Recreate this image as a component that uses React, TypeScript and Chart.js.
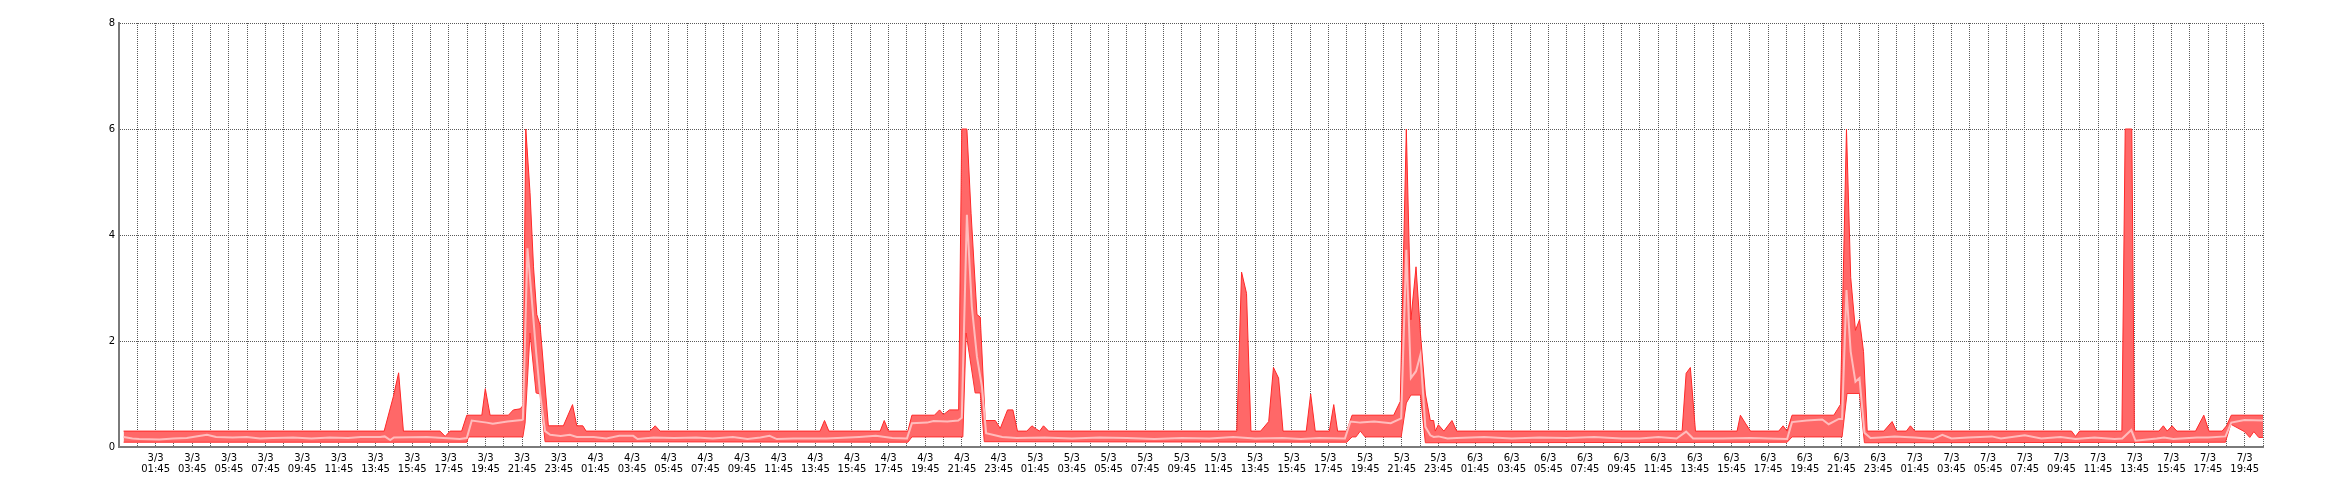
import React, { useEffect, useRef } from 'react';
import { Chart, registerables } from 'chart.js';

Chart.register(...registerables);

// x values are hours since 2/3 23:45 (axis start)
const TICK_LABELS = [
  '3/3 01:45', '3/3 03:45', '3/3 05:45', '3/3 07:45', '3/3 09:45', '3/3 11:45',
  '3/3 13:45', '3/3 15:45', '3/3 17:45', '3/3 19:45', '3/3 21:45', '3/3 23:45',
  '4/3 01:45', '4/3 03:45', '4/3 05:45', '4/3 07:45', '4/3 09:45', '4/3 11:45',
  '4/3 13:45', '4/3 15:45', '4/3 17:45', '4/3 19:45', '4/3 21:45', '4/3 23:45',
  '5/3 01:45', '5/3 03:45', '5/3 05:45', '5/3 07:45', '5/3 09:45', '5/3 11:45',
  '5/3 13:45', '5/3 15:45', '5/3 17:45', '5/3 19:45', '5/3 21:45', '5/3 23:45',
  '6/3 01:45', '6/3 03:45', '6/3 05:45', '6/3 07:45', '6/3 09:45', '6/3 11:45',
  '6/3 13:45', '6/3 15:45', '6/3 17:45', '6/3 19:45', '6/3 21:45', '6/3 23:45',
  '7/3 01:45', '7/3 03:45', '7/3 05:45', '7/3 07:45', '7/3 09:45', '7/3 11:45',
  '7/3 13:45', '7/3 15:45', '7/3 17:45', '7/3 19:45',
];

const MAX_T = [
  0.25, 14.47, 14.97, 15.26, 15.52, 17.52, 17.8, 18.07, 18.7, 18.98, 19.8, 19.99, 20.25,
  21.25, 21.52, 21.89, 22.04, 22.2, 22.43, 22.62, 22.8, 22.98, 23.43, 24.25, 24.75, 24.98,
  25.31, 25.49, 28.98, 29.26, 29.53, 38.26, 38.5, 38.74, 41.54, 41.76, 41.99, 43.05, 43.27,
  44.5, 44.78, 44.99, 45.32, 45.82, 45.99, 46.27, 46.5, 46.82, 47.0, 47.27, 47.82, 48.09,
  48.49, 48.78, 49.03, 49.54, 49.82, 50.0, 50.24, 50.45, 50.73, 61.0, 61.26, 61.53, 61.77,
  62.3, 62.74, 63.0, 63.28, 63.52, 64.79, 65.03, 65.28, 66.05, 66.29, 66.5, 67.0, 67.29,
  69.56, 69.92, 70.25, 70.5, 70.78, 71.02, 71.29, 71.56, 71.74, 71.83, 72.0, 72.3, 72.74,
  73.0, 85.3, 85.52, 85.75, 86.03, 88.3, 88.48, 88.75, 89.03, 90.57, 90.81, 91.03, 91.3,
  93.58, 93.76, 93.94, 94.27, 94.5, 94.76, 94.98, 95.2, 95.4, 96.31, 96.76, 97.0, 97.54,
  97.76, 98.0, 106.55, 106.77, 106.99, 109.3, 109.48, 109.84, 109.98, 111.32, 111.56,
  111.77, 112.04, 112.3, 113.32, 113.77, 114.05, 114.77, 115.01, 115.27, 117.0,
];
const MAX_V = [
  0.3, 0.3, 0.95, 1.4, 0.3, 0.3, 0.2, 0.3, 0.3, 0.6, 0.6, 1.1, 0.6,
  0.6, 0.7, 0.72, 0.78, 6.0, 4.8, 3.4, 2.5, 2.3, 0.4, 0.4, 0.8, 0.4,
  0.4, 0.3, 0.3, 0.4, 0.3, 0.3, 0.5, 0.3, 0.3, 0.5, 0.3, 0.3, 0.6,
  0.6, 0.7, 0.61, 0.7, 0.7, 6.0, 6.0, 4.4, 2.5, 2.45, 0.5, 0.5, 0.35,
  0.7, 0.7, 0.3, 0.3, 0.4, 0.35, 0.3, 0.4, 0.3, 0.3, 3.3, 2.9, 0.3,
  0.3, 0.48, 1.5, 1.3, 0.3, 0.3, 1.0, 0.3, 0.3, 0.8, 0.3, 0.3, 0.6,
  0.6, 0.86, 6.0, 2.4, 3.4, 2.15, 1.0, 0.5, 0.5, 0.3, 0.42, 0.3, 0.5,
  0.3, 0.3, 1.39, 1.5, 0.3, 0.3, 0.6, 0.45, 0.3, 0.3, 0.4, 0.3, 0.6,
  0.6, 0.7, 0.8, 6.0, 3.2, 2.2, 2.4, 1.8, 0.3, 0.3, 0.48, 0.3, 0.3,
  0.4, 0.3, 0.3, 0.2, 0.3, 0.3, 6.0, 6.0, 0.3, 0.3, 0.4,
  0.3, 0.4, 0.3, 0.3, 0.6, 0.3, 0.3, 0.4, 0.6, 0.6,
];

const MIN_T = [
  0.25, 18.98, 19.07, 22.04, 22.16, 22.43, 22.76, 22.98, 23.25, 43.05, 43.27, 46.05, 46.23,
  46.72, 47.0, 47.22, 67.0, 67.29, 67.5, 67.74, 68.0, 69.97, 70.25, 70.5, 71.02, 71.29,
  91.03, 91.3, 94.03, 94.3, 94.98, 95.25, 114.95, 115.24, 115.99, 116.28, 116.5, 116.77, 117.0,
];
const MIN_V = [
  0.09, 0.09, 0.19, 0.19, 0.45, 2.15, 1.02, 1.0, 0.1, 0.09, 0.19, 0.19, 2.15,
  1.02, 1.02, 0.1, 0.09, 0.19, 0.19, 0.3, 0.19, 0.19, 0.83, 0.98, 0.98, 0.08,
  0.09, 0.19, 0.19, 1.01, 1.01, 0.08, 0.09, 0.43, 0.29, 0.18, 0.29, 0.18, 0.18,
];

const AVG_T = [
  0.25, 0.73, 1.1, 2.2, 2.97, 3.7, 4.2, 4.8, 5.3, 6.2, 6.97, 7.7, 8.4, 9.5, 10.5, 11.5,
  12.5, 13.2, 14.25, 14.5, 14.8, 15.0, 16.8, 17.7, 18.6, 18.98, 19.25, 20.07, 20.4, 21.2,
  21.98, 22.04, 22.29, 22.5, 22.76, 22.98, 23.25, 23.53, 24.1, 24.6, 24.98, 25.9, 26.6,
  27.3, 28.06, 28.3, 29.17, 30.3, 31.5, 32.4, 33.5, 34.3, 35.0, 35.5, 35.9, 36.8, 38.6,
  40.4, 41.3, 42.2, 43.0, 43.27, 44.1, 44.45, 45.2, 45.8, 45.99, 46.27, 46.54, 46.82,
  47.09, 47.32, 48.2, 49.0, 50.5, 52.0, 53.5, 55.0, 56.5, 58.0, 59.5, 60.8, 62.0, 63.5,
  64.5, 65.5, 66.9, 67.2, 67.74, 68.5, 69.4, 69.97, 70.25, 70.5, 70.78, 71.02, 71.29,
  71.56, 71.74, 72.0, 72.5, 73.0, 74.5, 76.0, 77.5, 79.0, 80.5, 82.0, 83.0, 84.0, 85.0,
  85.52, 85.9, 87.5, 89.0, 91.03, 91.3, 92.1, 92.95, 93.3, 93.85, 94.03, 94.27, 94.5,
  94.76, 94.98, 95.25, 95.58, 96.1, 96.9, 98.0, 99.0, 99.5, 100.0, 100.9, 102.2, 102.7,
  104.0, 104.9, 105.95, 106.77, 107.8, 108.9, 109.32, 109.81, 110.04, 111.2, 111.6,
  112.1, 113.4, 114.0, 114.95, 115.27, 115.99, 117.0,
];
const AVG_V = [
  0.19, 0.16, 0.15, 0.14, 0.16, 0.17, 0.2, 0.23, 0.19, 0.18, 0.19, 0.16, 0.17, 0.18, 0.16, 0.18,
  0.17, 0.19, 0.19, 0.2, 0.13, 0.18, 0.19, 0.17, 0.15, 0.17, 0.5, 0.46, 0.44, 0.48,
  0.51, 0.52, 3.75, 2.9, 1.8, 1.0, 0.3, 0.23, 0.21, 0.23, 0.19, 0.19, 0.16,
  0.21, 0.21, 0.15, 0.18, 0.17, 0.18, 0.16, 0.19, 0.15, 0.18, 0.21, 0.15, 0.16, 0.16,
  0.19, 0.21, 0.17, 0.16, 0.45, 0.46, 0.49, 0.48, 0.5, 0.55, 4.38, 2.65, 1.7,
  1.14, 0.26, 0.19, 0.17, 0.18, 0.16, 0.18, 0.17, 0.15, 0.17, 0.16, 0.19, 0.16, 0.17,
  0.15, 0.17, 0.16, 0.48, 0.46, 0.48, 0.45, 0.54, 3.72, 1.3, 1.43, 1.74, 0.38,
  0.22, 0.19, 0.2, 0.16, 0.17, 0.19, 0.16, 0.18, 0.17, 0.19, 0.16, 0.16, 0.19, 0.16,
  0.29, 0.16, 0.16, 0.17, 0.15, 0.47, 0.5, 0.52, 0.43, 0.53, 0.53, 2.96, 1.8,
  1.23, 1.3, 0.27, 0.17, 0.18, 0.2, 0.18, 0.15, 0.23, 0.16, 0.18, 0.2, 0.16,
  0.22, 0.16, 0.19, 0.15, 0.18, 0.15, 0.16, 0.32, 0.12, 0.16, 0.18,
  0.15, 0.18, 0.18, 0.2, 0.46, 0.51, 0.5,
];

const X_MIN = 0;
const X_MAX = 117;
const Y_MAX = 8;

const toPoints = (ts: number[], vs: number[]) => ts.map((x, i) => ({ x, y: vs[i] }));

export default function App() {
  const ref = useRef<HTMLCanvasElement | null>(null);

  useEffect(() => {
    document.body.style.margin = '0';
    const canvas = ref.current;
    if (!canvas) return;
    const font = { family: 'DejaVu Sans', size: 10, lineHeight: 1.1 };
    const chart = new Chart(canvas, {
      type: 'line',
      data: {
        datasets: [
          {
            label: 'avg',
            data: toPoints(AVG_T, AVG_V),
            borderColor: 'rgb(255,188,188)',
            borderWidth: 2,
            pointRadius: 0,
            fill: false,
            order: 0,
          },
          {
            label: 'max',
            data: toPoints(MAX_T, MAX_V),
            borderColor: 'rgb(255,40,40)',
            borderWidth: 1,
            backgroundColor: 'rgb(255,104,104)',
            pointRadius: 0,
            fill: '+1',
            order: 1,
          },
          {
            label: 'min',
            data: toPoints(MIN_T, MIN_V),
            borderColor: 'rgb(255,50,50)',
            borderWidth: 1,
            pointRadius: 0,
            fill: false,
            order: 2,
          },
        ],
      },
      options: {
        animation: false,
        responsive: false,
        devicePixelRatio: 1,
        layout: { padding: { left: 0, right: 77, top: 23, bottom: 0 } },
        elements: { line: { tension: 0 }, point: { radius: 0 } },
        plugins: {
          legend: { display: false },
          tooltip: { enabled: false },
          filler: { drawTime: 'beforeDatasetsDraw' },
        } as any,
        scales: {
          x: {
            type: 'linear',
            min: X_MIN,
            max: X_MAX,
            afterFit: (s: any) => { s.height = 53; },
            ticks: {
              stepSize: 1,
              autoSkip: false,
              maxRotation: 0,
              minRotation: 0,
              padding: 6,
              color: '#000',
              font,
              callback: (value: any) => {
                const v = Math.round(Number(value));
                if (v > 0 && v % 2 === 0 && v / 2 - 1 < TICK_LABELS.length) {
                  return TICK_LABELS[v / 2 - 1].split(' ');
                }
                return '';
              },
            },
            grid: { color: '#5a5a5a', lineWidth: 1, drawTicks: false },
            border: { color: '#7a7a7a', width: 2, dash: [1, 1] },
          },
          y: {
            min: 0,
            max: Y_MAX,
            afterFit: (s: any) => { s.width = 119; },
            ticks: { stepSize: 2, padding: 4, color: '#000', font },
            grid: { color: '#5a5a5a', lineWidth: 1, drawTicks: false },
            border: { color: '#7a7a7a', width: 2, dash: [1, 1] },
          },
        },
      } as any,
    });
    return () => chart.destroy();
  }, []);

  return (
    <div style={{ position: 'absolute', left: 0, top: 0, width: 2340, height: 500, background: '#fff' }}>
      <canvas ref={ref} width={2340} height={500} style={{ width: 2340, height: 500, display: 'block' }} />
    </div>
  );
}
